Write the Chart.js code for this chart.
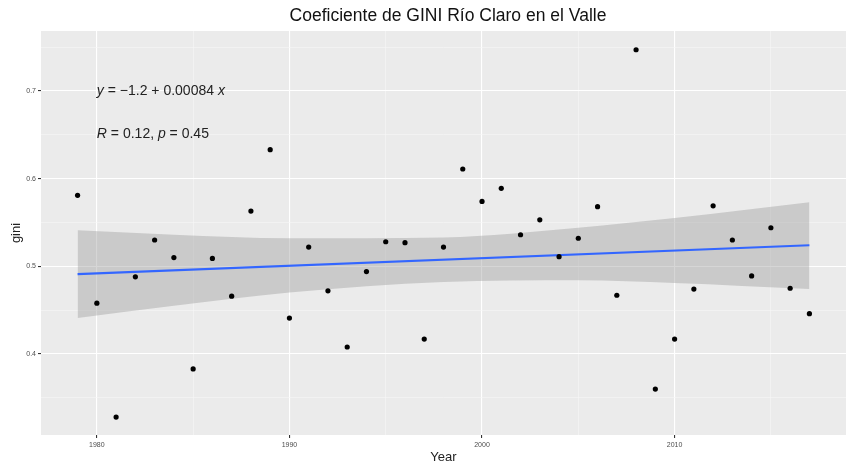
<!DOCTYPE html>
<html>
<head>
<meta charset="utf-8">
<script src="https://cdn.jsdelivr.net/npm/chart.js@4.4.1/dist/chart.umd.min.js"></script>
<style>
  html, body { margin: 0; padding: 0; background: #fff; }
  #wrap { width: 852px; height: 468px; }
</style>
</head>
<body>
<div id="wrap"><canvas id="myChart" width="852" height="468"></canvas></div>
<script>
// gini per year
const years = [1979, 1980, 1981, 1982, 1983, 1984, 1985, 1986, 1987, 1988,
  1989, 1990, 1991, 1992, 1993, 1994, 1995, 1996, 1997, 1998,
  1999, 2000, 2001, 2002, 2003, 2004, 2005, 2006, 2007, 2008,
  2009, 2010, 2011, 2012, 2013, 2014, 2015, 2016, 2017];
const gini = [0.581, 0.458, 0.328, 0.488, 0.530, 0.510, 0.383, 0.509, 0.466, 0.563,
  0.633, 0.441, 0.522, 0.472, 0.408, 0.494, 0.528, 0.527, 0.417, 0.522,
  0.611, 0.574, 0.589, 0.536, 0.553, 0.511, 0.532, 0.568, 0.467, 0.747,
  0.360, 0.417, 0.474, 0.569, 0.530, 0.489, 0.544, 0.475, 0.446];

// lm line and its confidence band
const fitYears = [1979, 2017];
const fitValues = [0.491, 0.524];
const bandYears = [1979, 1984, 1990, 1998, 2005, 2010, 2017];
const bandUpper = [0.541, 0.536, 0.532, 0.533, 0.544, 0.555, 0.573];
const bandLower = [0.441, 0.455, 0.470, 0.482, 0.484, 0.481, 0.474];

const xTickLabels = [1980, 1990, 2000, 2010];
const yTickLabels = [0.4, 0.5, 0.6, 0.7];

const toXY = (xs, ys) => xs.map((x, i) => ({ x: x, y: ys[i] }));

const isMajorX = (v) => xTickLabels.includes(Math.round(v));
const isMajorY = (v) => yTickLabels.some((t) => Math.abs(t - v) < 1e-6);

const panelBg = {
  id: "panelBg",
  beforeDraw(chart) {
    const { ctx, chartArea: a } = chart;
    ctx.save();
    ctx.fillStyle = "#EBEBEB";
    ctx.fillRect(a.left, a.top, a.right - a.left, a.bottom - a.top);
    ctx.restore();
  },
};

const texts = {
  id: "texts",
  afterDraw(chart) {
    const { ctx, chartArea: a } = chart;
    const xs = chart.scales.x, ys = chart.scales.y;
    ctx.save();
    ctx.fillStyle = "#111";
    ctx.textBaseline = "middle";
    ctx.textAlign = "center";
    ctx.font = "17.5px 'Liberation Sans', Arial, sans-serif";
    ctx.fillText("Coeficiente de GINI Río Claro en el Valle", 448, 16);

    ctx.fillStyle = "#222";
    ctx.font = "13px 'Liberation Sans', Arial, sans-serif";
    ctx.fillText("Year", (a.left + a.right) / 2, 457);
    ctx.save();
    ctx.translate(16, (a.top + a.bottom) / 2);
    ctx.rotate(-Math.PI / 2);
    ctx.fillText("gini", 0, 0);
    ctx.restore();

    // equation and correlation labels
    const parts = (list, x, y) => {
      ctx.textAlign = "left";
      list.forEach(([s, it]) => {
        ctx.font = (it ? "italic " : "") + "14px 'Liberation Sans', Arial, sans-serif";
        ctx.fillText(s, x, y);
        x += ctx.measureText(s).width;
      });
    };
    const x0 = xs.getPixelForValue(1980);
    parts([["y", true], [" = \u22121.2 + 0.00084 ", false], ["x", true]], x0, ys.getPixelForValue(0.7));
    parts([["R", true], [" = 0.12, ", false], ["p", true], [" = 0.45", false]], x0, ys.getPixelForValue(0.651));
    ctx.restore();
  },
};

const ctx1 = document.getElementById("myChart");
new Chart(ctx1, {
  type: "scatter",
  data: {
    datasets: [
      {
        data: toXY(bandYears, bandLower),
        showLine: true,
        borderWidth: 0,
        borderColor: "rgba(0,0,0,0)",
        pointRadius: 0,
        cubicInterpolationMode: "monotone",
        order: 4,
      },
      {
        data: toXY(bandYears, bandUpper),
        showLine: true,
        borderWidth: 0,
        borderColor: "rgba(0,0,0,0)",
        pointRadius: 0,
        cubicInterpolationMode: "monotone",
        fill: "-1",
        backgroundColor: "rgba(153,153,153,0.4)",
        order: 3,
      },
      {
        data: toXY(fitYears, fitValues),
        showLine: true,
        borderColor: "#3366FF",
        borderWidth: 2.2,
        pointRadius: 0,
        order: 2,
      },
      {
        data: toXY(years, gini),
        backgroundColor: "#000",
        borderWidth: 0,
        pointRadius: 2.6,
        order: 1,
      },
    ],
  },
  options: {
    responsive: false,
    animation: false,
    layout: { padding: { top: 31, right: 6, left: 0, bottom: 0 } },
    plugins: { legend: { display: false }, tooltip: { enabled: false } },
    scales: {
      x: {
        type: "linear",
        min: 1977.1,
        max: 2018.9,
        afterFit: (s) => { s.height = 33; },
        border: { display: false },
        grid: {
          color: (c) => (c.tick && isMajorX(c.tick.value) ? "#FFFFFF" : "#F7F7F7"),
          lineWidth: (c) => (c.tick && isMajorX(c.tick.value) ? 1.1 : 0.6),
          tickColor: (c) => (c.tick && isMajorX(c.tick.value) ? "#333" : "rgba(0,0,0,0)"),
          tickLength: 3,
        },
        ticks: {
          stepSize: 5,
          includeBounds: false,
          autoSkip: false,
          maxRotation: 0,
          padding: 3,
          color: "#4D4D4D",
          font: { size: 7, family: "'Liberation Sans', Arial, sans-serif" },
          callback: (v) => (isMajorX(v) ? String(Math.round(v)) : ""),
        },
      },
      y: {
        min: 0.3076,
        max: 0.7684,
        afterFit: (s) => { s.width = 41; },
        border: { display: false },
        grid: {
          color: (c) => (c.tick && isMajorY(c.tick.value) ? "#FFFFFF" : "#F7F7F7"),
          lineWidth: (c) => (c.tick && isMajorY(c.tick.value) ? 1.1 : 0.6),
          tickColor: (c) => (c.tick && isMajorY(c.tick.value) ? "#333" : "rgba(0,0,0,0)"),
          tickLength: 3,
        },
        ticks: {
          stepSize: 0.05,
          includeBounds: false,
          autoSkip: false,
          padding: 2,
          color: "#4D4D4D",
          font: { size: 7, family: "'Liberation Sans', Arial, sans-serif" },
          callback: (v) => (isMajorY(v) ? v.toFixed(1) : ""),
        },
      },
    },
  },
  plugins: [panelBg, texts],
});
</script>
</body>
</html>
